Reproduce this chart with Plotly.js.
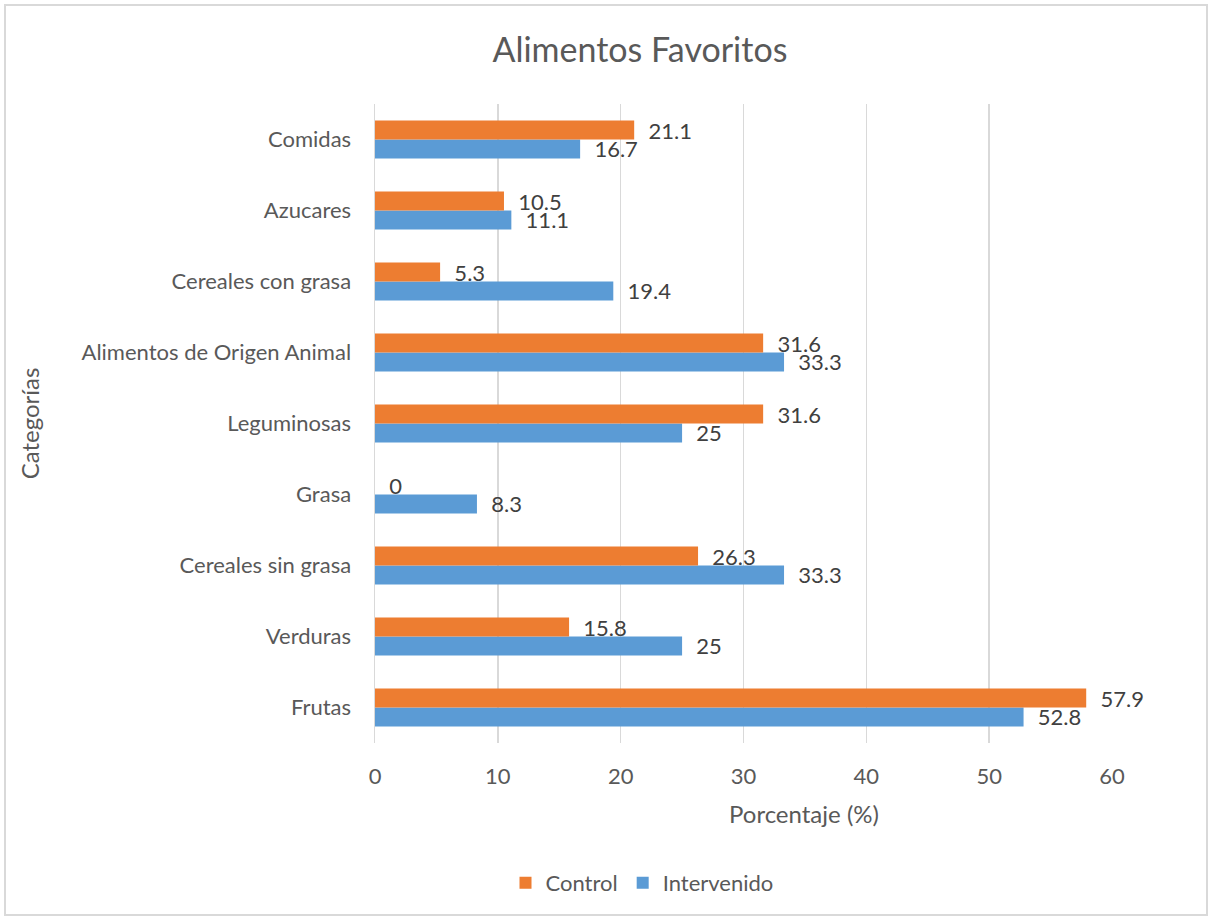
<!DOCTYPE html>
<html>
<head>
<meta charset="utf-8">
<script src="https://cdn.plot.ly/plotly-3.0.1.min.js"></script>
<style>
  html, body { margin: 0; padding: 0; background: #ffffff; }
  #frame { position: absolute; left: 4px; top: 4px; width: 1204px; height: 912px; border: 2px solid #d9d9d9; box-sizing: border-box; }
  #chart { position: absolute; left: 0; top: 0; width: 1212px; height: 920px; }
</style>
</head>
<body>
<div id="frame"></div>
<div id="chart"></div>
<script>
const categories = ["Frutas", "Verduras", "Cereales sin grasa", "Grasa", "Leguminosas",
  "Alimentos de Origen Animal", "Cereales con grasa", "Azucares", "Comidas"];
const controlValues = [57.9, 15.8, 26.3, 0, 31.6, 31.6, 5.3, 10.5, 21.1];
const intervenidoValues = [52.8, 25, 33.3, 8.3, 25, 33.3, 19.4, 11.1, 16.7];
const xTicks = [0, 10, 20, 30, 40, 50, 60];

const FONT = "Lato, Open Sans, Liberation Sans, sans-serif";
const textFont = { family: FONT, size: 22, color: "#404040" };
const pad = "\u00a0\u00a0";

const traces = [
  {
    type: "bar", orientation: "h", name: "Intervenido",
    y: categories, x: intervenidoValues,
    marker: { color: "#5B9BD5", line: { width: 0 } },
    text: intervenidoValues.map(v => pad + String(v)), textposition: "outside",
    constraintext: "none", cliponaxis: false,
    textfont: textFont, legendrank: 2
  },
  {
    type: "bar", orientation: "h", name: "Control",
    y: categories, x: controlValues,
    marker: { color: "#ED7D31", line: { width: 0 } },
    text: controlValues.map(v => pad + String(v)), textposition: "outside",
    constraintext: "none", cliponaxis: false,
    textfont: textFont, legendrank: 1
  }
];

const layout = {
  width: 1212, height: 920,
  paper_bgcolor: "rgba(0,0,0,0)", plot_bgcolor: "rgba(0,0,0,0)",
  margin: { l: 375, r: 100, t: 104, b: 177, autoexpand: false },
  font: { family: FONT, color: "#595959", size: 22 },
  title: { text: "Alimentos Favoritos", font: { family: FONT, size: 34, color: "#595959" }, x: 0.528, xanchor: "center", y: 0.946, yanchor: "middle" },
  barmode: "group", bargap: 0.465, bargroupgap: 0,
  xaxis: {
    range: [0, 60], tickvals: xTicks, ticktext: xTicks.map(String),
    showgrid: true, gridcolor: "#d9d9d9", gridwidth: 1.5,
    zeroline: false, showline: false, ticks: "", ticklabelstandoff: 18,
    tickfont: { family: FONT, size: 22, color: "#595959" },
    automargin: false, fixedrange: true
  },
  yaxis: {
    showgrid: false, zeroline: false, showline: true, linecolor: "#d9d9d9", linewidth: 1.5,
    ticks: "", ticklabelstandoff: 18, tickfont: { family: FONT, size: 22, color: "#595959" },
    title: { text: "Categorías", font: { family: FONT, size: 24, color: "#595959" }, standoff: 35 },
    automargin: false, fixedrange: true
  },
  annotations: [
    { text: "Porcentaje (%)", xref: "paper", yref: "paper", x: (804 - 375) / 737, y: (743 - 813) / 639,
      xanchor: "center", yanchor: "middle", showarrow: false,
      font: { family: FONT, size: 24, color: "#595959" } }
  ],
  showlegend: true,
  legend: {
    orientation: "h", x: (642 - 375) / 737, xanchor: "center", y: -0.219, yanchor: "middle",
    font: { family: FONT, size: 22, color: "#595959" }, traceorder: "normal", itemwidth: 30
  }
};

Plotly.newPlot("chart", traces, layout, { displayModeBar: false, staticPlot: true });
</script>
</body>
</html>
